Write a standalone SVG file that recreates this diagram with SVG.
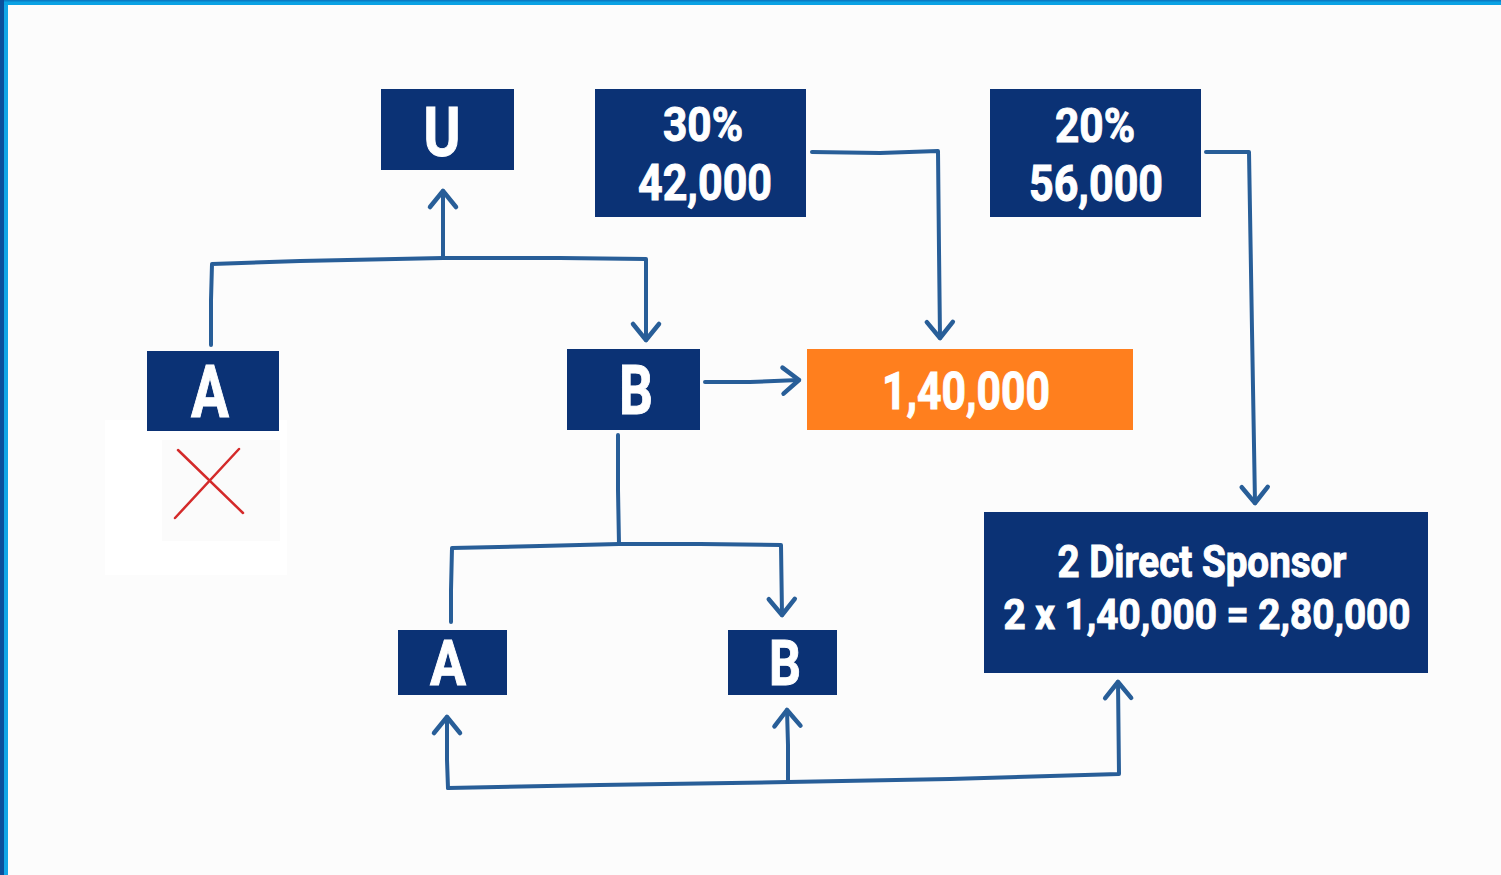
<svg xmlns="http://www.w3.org/2000/svg" width="1501" height="875" viewBox="0 0 1501 875">
<style>
.box{fill:#0b3275}
.org{fill:#ff7f1e}
.t{fill:#ffffff;stroke:#ffffff;stroke-width:1;font-family:Roboto,"Liberation Sans",sans-serif;font-weight:bold;text-anchor:middle}
.c{fill:none;stroke:#285e98;stroke-width:4;stroke-linecap:round;stroke-linejoin:round}
</style>
<defs>
<marker id="ah" markerUnits="userSpaceOnUse" markerWidth="40" markerHeight="40" viewBox="-20 -20 40 40" refX="0" refY="0" orient="auto" overflow="visible">
<path d="M-16,-13 L0,0 L-16,13" fill="none" stroke="#285e98" stroke-width="4.5" stroke-linecap="round" stroke-linejoin="round"/>
</marker>
</defs>
<rect x="0" y="0" width="1501" height="875" fill="#fcfcfc"/>
<rect x="0" y="0" width="1501" height="5" fill="#0aa2e4"/>
<rect x="0" y="0" width="1501" height="1.5" fill="#0a7cc4"/>
<rect x="0" y="0" width="4" height="875" fill="#0b4f9c"/>
<rect x="4" y="5" width="4" height="870" fill="#12a6e8"/>

<g id="xmark">
<rect x="105" y="420" width="182" height="155" fill="#ffffff"/>
<rect x="162" y="440" width="118" height="101" fill="#fbfbfb"/>
<line x1="178" y1="450" x2="243" y2="513" stroke="#d42a2a" stroke-width="2.5" stroke-linecap="round"/>
<line x1="239" y1="449" x2="175" y2="518" stroke="#d42a2a" stroke-width="2.5" stroke-linecap="round"/>
</g>

<g id="connectors">
<path class="c" d="M211,345 L211,300 L212,264 L300,261 L443,258 L560,258 L646,259 L646,340" marker-end="url(#ah)"/>
<path class="c" d="M443,258 L443,191" marker-end="url(#ah)"/>
<path class="c" d="M705,382 L750,382 L799,380" marker-end="url(#ah)"/>
<path class="c" d="M812,152 L880,153 L938,151 L939,250 L940,338" marker-end="url(#ah)"/>
<path class="c" d="M1206,152 L1249,152 L1252,330 L1255,503" marker-end="url(#ah)"/>
<path class="c" d="M618,435 L618,490 L619,544"/>
<path class="c" d="M451,622 L451,590 L452,548 L540,546 L619,544 L700,544 L781,545 L782,615" marker-end="url(#ah)"/>
<path class="c" d="M448,788 L600,785 L788,782 L950,779 L1119,774 L1118,682" marker-end="url(#ah)"/>
<path class="c" d="M448,788 L447,760 L447,717" marker-end="url(#ah)"/>
<path class="c" d="M788,782 L788,745 L787,710" marker-end="url(#ah)"/>
</g>

<g id="node-u">
<rect class="box" x="381" y="89" width="133" height="81"/>
<text class="t" x="442" y="156" font-size="69" textLength="37" lengthAdjust="spacingAndGlyphs">U</text>
</g>
<g id="node-30">
<rect class="box" x="595" y="89" width="211" height="128"/>
<text class="t" x="703" y="141" font-size="48" textLength="80" lengthAdjust="spacingAndGlyphs">30%</text>
<text class="t" x="705" y="200" font-size="50" textLength="134" lengthAdjust="spacingAndGlyphs">42,000</text>
</g>
<g id="node-20">
<rect class="box" x="990" y="89" width="211" height="128"/>
<text class="t" x="1095" y="142" font-size="48" textLength="80" lengthAdjust="spacingAndGlyphs">20%</text>
<text class="t" x="1096" y="201" font-size="50" textLength="134" lengthAdjust="spacingAndGlyphs">56,000</text>
</g>
<g id="node-a1">
<rect class="box" x="147" y="351" width="132" height="80"/>
<text class="t" x="210" y="417" font-size="72" textLength="38" lengthAdjust="spacingAndGlyphs">A</text>
</g>
<g id="node-b1">
<rect class="box" x="567" y="349" width="133" height="81"/>
<text class="t" x="636" y="414" font-size="69" textLength="34" lengthAdjust="spacingAndGlyphs">B</text>
</g>
<g id="node-total">
<rect class="org" x="807" y="349" width="326" height="81"/>
<text class="t" x="966" y="409" font-size="51" textLength="168" lengthAdjust="spacingAndGlyphs">1,40,000</text>
</g>
<g id="node-direct">
<rect class="box" x="984" y="512" width="444" height="161"/>
<text class="t" x="1202" y="577" font-size="44" textLength="289" lengthAdjust="spacingAndGlyphs">2 Direct Sponsor</text>
<text class="t" x="1207" y="629" font-size="42" textLength="407" lengthAdjust="spacingAndGlyphs">2 x 1,40,000 = 2,80,000</text>
</g>
<g id="node-a2">
<rect class="box" x="398" y="630" width="109" height="65"/>
<text class="t" x="448" y="685" font-size="63" textLength="36" lengthAdjust="spacingAndGlyphs">A</text>
</g>
<g id="node-b2">
<rect class="box" x="728" y="630" width="109" height="65"/>
<text class="t" x="785" y="685" font-size="63" textLength="32" lengthAdjust="spacingAndGlyphs">B</text>
</g>
</svg>
